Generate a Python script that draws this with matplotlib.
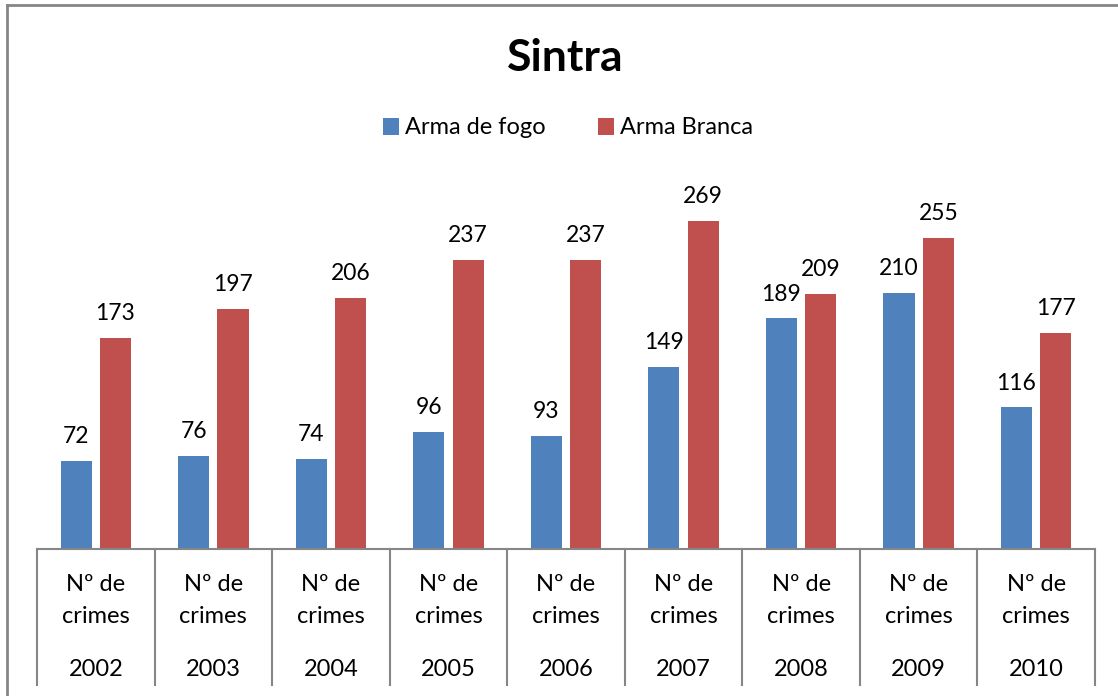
import matplotlib
matplotlib.use('Agg')
import matplotlib.pyplot as plt
import matplotlib.transforms as mtransforms
from matplotlib.lines import Line2D
import numpy as np

anos = ['2002', '2003', '2004', '2005', '2006', '2007', '2008', '2009', '2010']
arma_fogo = [72, 76, 74, 96, 93, 149, 189, 210, 116]
arma_branca = [173, 197, 206, 237, 237, 269, 209, 255, 177]
rotulo = 'Nº de\ncrimes'

plt.rcParams['font.family'] = ['Lato', 'DejaVu Sans']

azul = '#4F81BD'
vermelho = '#C0504D'
cinza = '#868686'

fig = plt.figure(figsize=(11.18, 6.96), dpi=100)
ax = fig.add_axes([37 / 1118, (696 - 549) / 696, (1095 - 37) / 1118, 366 / 696])

x = np.arange(len(anos))
w = 0.265
gap = 0.035
b1 = ax.bar(x - w / 2 - gap, arma_fogo, w, color=azul, label='Arma de fogo')
b2 = ax.bar(x + w / 2 + gap, arma_branca, w, color=vermelho, label='Arma Branca')

# rótulos de dados
for barras in (b1, b2):
    for b in barras:
        ax.annotate(str(int(b.get_height())), (b.get_x() + b.get_width() / 2, b.get_height()),
                    xytext=(0, 10), textcoords='offset points', ha='center', va='bottom',
                    fontsize=16.5)

ax.set_xlim(-0.5, len(anos) - 0.5)
ax.set_ylim(0, 300)
ax.set_yticks([])
ax.set_xticks([])
for s in ['top', 'left', 'right']:
    ax.spines[s].set_visible(False)
ax.spines['bottom'].set_color(cinza)
ax.spines['bottom'].set_linewidth(1.5)

# eixo de categorias em dois níveis
trans = mtransforms.blended_transform_factory(ax.transData, ax.transAxes)
for i in range(len(anos) + 1):
    ax.add_line(Line2D([i - 0.5, i - 0.5], [0, -0.372], transform=trans,
                       color=cinza, lw=1.5, clip_on=False))
for i, ano in enumerate(anos):
    ax.text(i, -0.141, rotulo, transform=trans, ha='center', va='center',
            fontsize=17, linespacing=1.65)
    ax.text(i, -0.328, ano, transform=trans, ha='center', va='center', fontsize=17)

fig.text(565 / 1118, 1 - 58 / 696, 'Sintra', ha='center', va='center',
         fontsize=32, fontweight='bold')
fig.legend(handles=[b1, b2], loc='center', bbox_to_anchor=(568 / 1118, 1 - 128 / 696),
           ncol=2, frameon=False, fontsize=17, handlelength=0.7, handleheight=0.7,
           handletextpad=0.25, columnspacing=2.2)

# moldura exterior
fig.add_artist(Line2D([7 / 1118, 7 / 1118], [0, 1 - 5 / 696], color=cinza, lw=2))
fig.add_artist(Line2D([7 / 1118, 1], [1 - 5 / 696, 1 - 5 / 696], color=cinza, lw=2))

fig.savefig('out.png', dpi=100)
